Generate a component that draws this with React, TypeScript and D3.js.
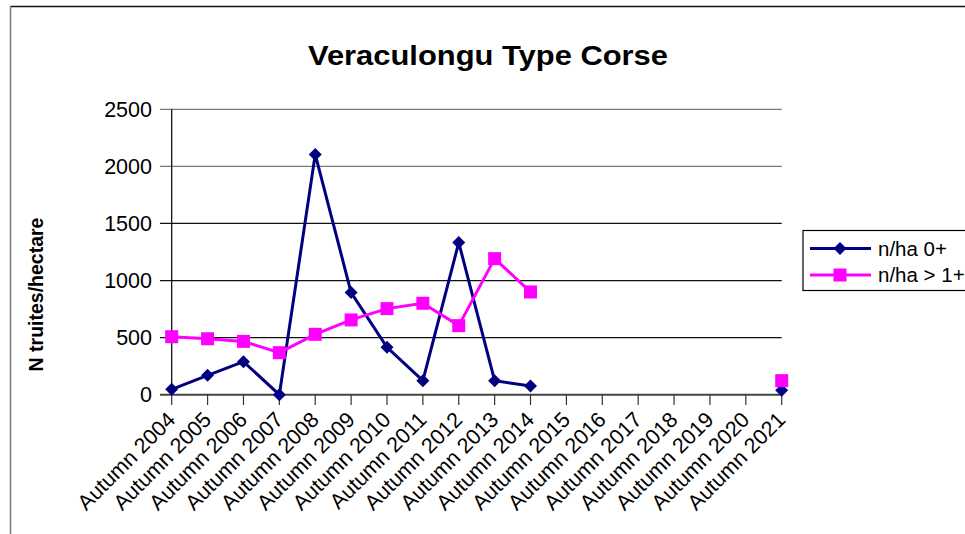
import React from "react";
import * as d3 from "d3";

const categories = [
  "Autumn 2004", "Autumn 2005", "Autumn 2006", "Autumn 2007", "Autumn 2008",
  "Autumn 2009", "Autumn 2010", "Autumn 2011", "Autumn 2012", "Autumn 2013",
  "Autumn 2014", "Autumn 2015", "Autumn 2016", "Autumn 2017", "Autumn 2018",
  "Autumn 2019", "Autumn 2020", "Autumn 2021",
];
const series0: (number | null)[] = [
  47, 170, 289, 0, 2105, 895, 415, 123, 1333, 123, 76,
  null, null, null, null, null, null, 40,
];
const series1: (number | null)[] = [
  508, 490, 467, 368, 529, 655, 754, 801, 605, 1192, 900,
  null, null, null, null, null, null, 123,
];
const yTicks = [0, 500, 1000, 1500, 2000, 2500];
const seriesNames = ["n/ha 0+", "n/ha > 1+"];
const title = "Veraculongu Type Corse";
const yTitle = "N truites/hectare";

const W = 965;
const H = 534;
const FONT = "Liberation Sans, Arial, sans-serif";
const FS = 21.5;

export default function App() {
  const x = d3.scalePoint<string>().domain(categories).range([171.7, 781.7]);
  const y = d3.scaleLinear().domain([0, 2500]).range([394.7, 109.3]);

  const line = d3
    .line<number | null>()
    .defined((d) => d !== null)
    .x((_, i) => x(categories[i]) as number)
    .y((d) => y(d as number));

  const diamond = (cx: number, cy: number, r = 6.5) =>
    `M${cx},${cy - r}L${cx + r},${cy}L${cx},${cy + r}L${cx - r},${cy}Z`;
  const sq = 13;

  return (
    <svg
      width={W}
      height={H}
      style={{ position: "fixed", left: 0, top: 0, display: "block", background: "#fff" }}
    >
      <rect x={0} y={0} width={W} height={H} fill="#fff" />
      {/* outer border */}
      <line x1={10} y1={6.5} x2={W} y2={6.5} stroke="#111" strokeWidth={1.5} />
      <line x1={10.5} y1={6} x2={10.5} y2={H} stroke="#777" strokeWidth={1.5} />

      {/* title */}
      <text
        x={308}
        y={65}
        textLength={360}
        lengthAdjust="spacingAndGlyphs"
        fontFamily={FONT}
        fontWeight="bold"
        fontSize={28}
        fill="#000"
      >
        {title}
      </text>

      {/* gridlines */}
      {yTicks.map((t) => (
        <g key={t}>
          <line
            x1={160}
            x2={781.7}
            y1={y(t)}
            y2={y(t)}
            stroke={t === 0 ? "#444" : t >= 2000 ? "#777" : "#111"}
            strokeWidth={t === 0 ? 2 : 1.2}
          />
          <text
            x={152}
            y={y(t)}
            dy="0.35em"
            textAnchor="end"
            fontFamily={FONT}
            fontSize={FS}
            fill="#000"
          >
            {t}
          </text>
        </g>
      ))}
      {/* y axis */}
      <line x1={171.7} x2={171.7} y1={109.3} y2={394.7} stroke="#000" strokeWidth={1.2} />

      {/* x ticks and labels */}
      {categories.map((c) => {
        const px = x(c) as number;
        return (
          <g key={c}>
            <line x1={px} x2={px} y1={394.7} y2={405} stroke="#333" strokeWidth={1.2} />
            <text
              transform={`translate(${px + 5},${421}) rotate(-45)`}
              textAnchor="end"
              fontFamily={FONT}
              fontSize={FS}
              fill="#000"
            >
              {c}
            </text>
          </g>
        );
      })}

      {/* y title */}
      <text
        transform={`translate(43,294.5) rotate(-90)`}
        textAnchor="middle"
        fontFamily={FONT}
        fontWeight="bold"
        fontSize={19.5}
        fill="#000"
      >
        {yTitle}
      </text>

      {/* series 0 */}
      <path d={line(series0) || ""} fill="none" stroke="#000080" strokeWidth={3} />
      {series0.map((v, i) =>
        v === null ? null : (
          <path key={"d" + i} d={diamond(x(categories[i]) as number, y(v))} fill="#000080" />
        )
      )}

      {/* series 1 */}
      <path d={line(series1) || ""} fill="none" stroke="#FF00FF" strokeWidth={3} />
      {series1.map((v, i) =>
        v === null ? null : (
          <rect
            key={"s" + i}
            x={(x(categories[i]) as number) - sq / 2}
            y={y(v) - sq / 2}
            width={sq}
            height={sq}
            fill="#FF00FF"
          />
        )
      )}

      {/* legend */}
      <rect x={803} y={230.5} width={W} height={60} fill="#fff" stroke="#000" strokeWidth={1.2} />
      <line x1={810} x2={871} y1={248.5} y2={248.5} stroke="#000080" strokeWidth={3} />
      <path d={diamond(840, 248.5)} fill="#000080" />
      <text x={878} y={248.5} dy="0.35em" fontFamily={FONT} fontSize={20.5} fill="#000">
        {seriesNames[0]}
      </text>
      <line x1={810} x2={871} y1={275} y2={275} stroke="#FF00FF" strokeWidth={3} />
      <rect x={840 - sq / 2} y={275 - sq / 2} width={sq} height={sq} fill="#FF00FF" />
      <text x={878} y={275} dy="0.35em" fontFamily={FONT} fontSize={20.5} fill="#000">
        {seriesNames[1]}
      </text>
    </svg>
  );
}
